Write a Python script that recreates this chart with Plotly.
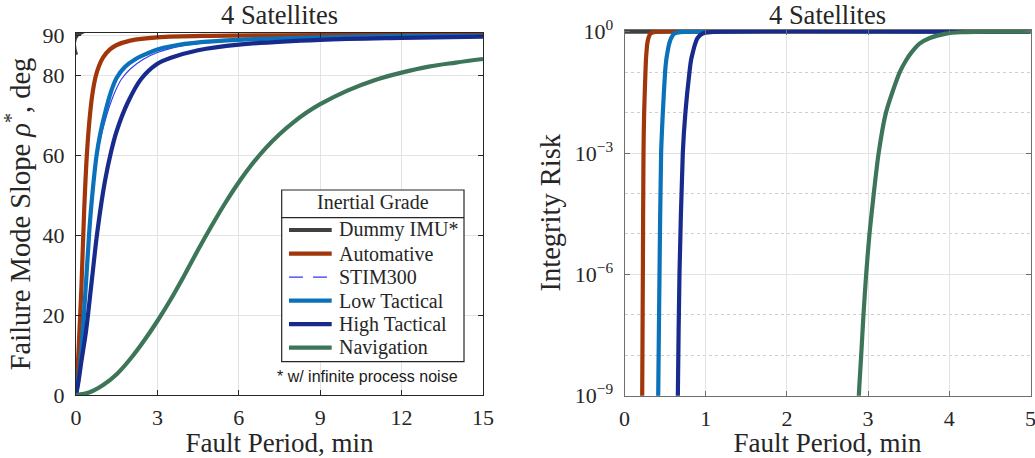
import plotly.graph_objects as go

W, H = 1035, 458

# ---------------- data: left panel (Failure mode slope, deg vs fault period, min)
dummy_t = [0, 0.04, 15]
dummy_rho = [85, 90, 90]

auto_t = [0, 0.05, 0.1, 0.2, 0.3, 0.4, 0.5, 0.6, 0.72, 0.85, 1.0, 1.25, 1.5, 2.0, 3.0, 5.0, 15]
auto_rho = [0, 5, 12, 27, 46, 60, 69, 75, 79.5, 82.3, 84.4, 86.4, 87.5, 88.6, 89.4, 89.8, 90]

stim_t = [0, 0.15, 0.33, 0.49, 0.6, 0.76, 0.9, 1.07, 1.25, 1.45, 1.68, 2.0, 2.5, 3.0, 3.46, 4.5, 6, 9, 12, 15]
stim_rho = [0, 7.5, 24, 41, 49.5, 58.5, 64, 68.5, 72.5, 76, 79, 81.5, 84, 85.6, 86.6, 87.8, 88.6, 89.2, 89.5, 89.7]

low_t = [0, 0.15, 0.33, 0.49, 0.6, 0.76, 0.9, 1.07, 1.3, 1.5, 1.8, 2.2, 2.6, 3.0, 3.5, 4.6, 6, 9, 12, 15]
low_rho = [0, 7.5, 24, 41, 50, 60, 65.5, 70.5, 76, 79.3, 82, 84, 85.3, 86.4, 87.2, 88.2, 88.8, 89.4, 89.7, 89.8]

high_t = [0, 0.09, 0.2, 0.37, 0.58, 0.79, 1.07, 1.3, 1.5, 1.9, 2.4, 3.0, 3.5, 4.5, 6, 9, 12, 15]
high_rho = [0, 3.3, 8.5, 16, 28.5, 41, 53.6, 61, 66, 73, 79, 82.8, 84.3, 86.2, 87.6, 88.8, 89.3, 89.6]

nav_t = [0, 0.5, 1, 1.5, 2, 2.5, 3, 3.5, 4, 4.5, 5, 5.5, 6, 6.5, 7, 7.5, 8, 8.5, 9, 10, 11, 12, 13, 14, 15]
nav_rho = [0, 0.7, 2.5, 5.2, 9, 13.5, 18.5, 24, 30, 36.3, 42.3, 48, 53.2, 57.8, 61.8, 65.2, 68.1, 70.6, 72.7,
           76.1, 78.7, 80.6, 82.1, 83.1, 84]

# ---------------- data: right panel (Integrity risk vs fault period, min)
r_dummy_t = [0, 5]
r_dummy_p = [1, 1]

r_auto_t = [0.214, 0.218, 0.226, 0.234, 0.242, 0.258, 0.264, 0.27, 0.28, 0.295, 0.32, 0.36, 5]
r_auto_p = [1e-10, 1e-9, 1e-6, 1e-3, 1e-2, 1e-1, 0.2, 0.3, 0.5, 0.7, 0.9, 0.98, 1]

r_stim_t = [0.406, 0.411, 0.427, 0.447, 0.468, 0.496, 0.51, 0.524, 0.545, 0.57, 0.61, 0.68, 5]
r_stim_p = [1e-10, 1e-9, 1e-6, 1e-3, 1e-2, 1e-1, 0.2, 0.3, 0.5, 0.7, 0.9, 0.98, 1]

r_low_t = [0.41, 0.415, 0.431, 0.451, 0.472, 0.5, 0.514, 0.528, 0.55, 0.575, 0.615, 0.685, 5]
r_low_p = [1e-10, 1e-9, 1e-6, 1e-3, 1e-2, 1e-1, 0.2, 0.3, 0.5, 0.7, 0.9, 0.98, 1]

r_high_t = [0.652, 0.657, 0.677, 0.718, 0.75, 0.8, 0.82, 0.84, 0.87, 0.9, 0.96, 1.06, 5]
r_high_p = [1e-10, 1e-9, 1e-6, 1e-3, 1e-2, 1e-1, 0.2, 0.3, 0.5, 0.7, 0.9, 0.98, 1]

r_nav_t = [2.876, 2.886, 2.915, 2.943, 2.976, 3.017, 3.07, 3.13, 3.22, 3.39, 3.47, 3.53, 3.63, 3.76, 3.96, 4.15, 4.5, 5]
r_nav_p = [1e-10, 1e-9, 1e-8, 1e-7, 1e-6, 1e-5, 1e-4, 1e-3, 1e-2, 1e-1, 0.2, 0.3, 0.5, 0.7, 0.9, 0.97, 1, 1]

names = ["Dummy IMU*", "Automative", "STIM300", "Low Tactical", "High Tactical", "Navigation"]
colors = ["#404040", "#A0360A", "#3535F5", "#0A72BA", "#182B8C", "#3C7558"]

left_x_ticks = [0, 3, 6, 9, 12, 15]
left_y_ticks = [0, 20, 40, 60, 80, 90]
right_x_ticks = [0, 1, 2, 3, 4, 5]
right_y_ticks = [1, 1e-3, 1e-6, 1e-9]
right_y_labels = ["10<sup>0</sup>", "10<sup>−3</sup>", "10<sup>−6</sup>", "10<sup>−9</sup>"]
right_minor = [1e-1, 1e-2, 1e-4, 1e-5, 1e-7, 1e-8]

SERIF = "Liberation Serif"
SANS = "Liberation Sans"
TXT = "#262626"
GRID = "#E3E3E3"
THICK = 4.2
THIN = 1.1

fig = go.Figure()

left_series = [(dummy_t, dummy_rho), (auto_t, auto_rho), (stim_t, stim_rho),
               (low_t, low_rho), (high_t, high_rho), (nav_t, nav_rho)]
right_series = [(r_dummy_t, r_dummy_p), (r_auto_t, r_auto_p), (r_stim_t, r_stim_p),
                (r_low_t, r_low_p), (r_high_t, r_high_p), (r_nav_t, r_nav_p)]

for i, (t, v) in enumerate(left_series):
    w = THIN if names[i] == "STIM300" else THICK
    fig.add_trace(go.Scatter(x=t, y=v, mode="lines", name=names[i], showlegend=False,
                             line=dict(color=colors[i], width=w, shape="spline", smoothing=1.0),
                             xaxis="x", yaxis="y"))

for i, (t, v) in enumerate(right_series):
    w = THIN if names[i] == "STIM300" else THICK
    fig.add_trace(go.Scatter(x=t, y=v, mode="lines", name=names[i], showlegend=False,
                             line=dict(color=colors[i], width=w, shape="spline", smoothing=0.7),
                             xaxis="x2", yaxis="y2"))

def px_x(p):
    return p / W

def px_y(p):
    return 1 - p / H

axis_common = dict(showline=True, mirror="ticks", ticks="inside", ticklen=5, tickwidth=1,
                   showgrid=True, gridcolor=GRID, gridwidth=1, zeroline=False, automargin=False,
                   ticklabeloverflow="allow",
                   tickfont=dict(family=SERIF, size=22, color=TXT))
xtitle_font = dict(family=SERIF, size=27, color=TXT)
ytitle_font = dict(family=SERIF, size=28.5, color=TXT)

# ---------------- manual legend (box with title)
LX0, LX1, LY0, LY1 = 281.7, 464.0, 190.0, 361.7
SEP_Y = 217.7
ITEM_Y0, ITEM_DY = 230.0, 23.54
SAMPLE_X0, SAMPLE_X1, TEXT_X = 289.0, 331.7, 336.5
LEG_FONT = 20

shapes = [
    dict(type="rect", xref="paper", yref="paper", x0=px_x(LX0), x1=px_x(LX1), y0=px_y(LY1), y1=px_y(LY0),
         fillcolor="white", line=dict(color=TXT, width=1.2), layer="above"),
    dict(type="line", xref="paper", yref="paper", x0=px_x(LX0), x1=px_x(LX1), y0=px_y(SEP_Y), y1=px_y(SEP_Y),
         line=dict(color=TXT, width=1.2), layer="above"),
]
annotations = [
    dict(text="Inertial Grade", x=px_x((LX0 + LX1) / 2), y=px_y(202), xref="paper", yref="paper",
         showarrow=False, font=dict(family=SERIF, size=LEG_FONT, color=TXT), xanchor="center", yanchor="middle"),
]
for i, nm in enumerate(names):
    yy = px_y(ITEM_Y0 + i * ITEM_DY)
    if nm == "STIM300":
        ln = dict(color=colors[i], width=1.3, dash="14px,10px")
    else:
        ln = dict(color=colors[i], width=THICK)
    shapes.append(dict(type="line", xref="paper", yref="paper", x0=px_x(SAMPLE_X0), x1=px_x(SAMPLE_X1),
                       y0=yy, y1=yy, line=ln, layer="above"))
    annotations.append(dict(text=nm, x=px_x(TEXT_X), y=yy, xref="paper", yref="paper", showarrow=False,
                            font=dict(family=SERIF, size=LEG_FONT, color=TXT), xanchor="left", yanchor="middle"))

annotations += [
    dict(text="4 Satellites", x=px_x((76 + 483) / 2), y=px_y(15), xref="paper", yref="paper",
         showarrow=False, font=dict(family=SERIF, size=26.5, color=TXT), xanchor="center", yanchor="middle"),
    dict(text="4 Satellites", x=px_x((624.5 + 1030.5) / 2), y=px_y(15), xref="paper", yref="paper",
         showarrow=False, font=dict(family=SERIF, size=26.5, color=TXT), xanchor="center", yanchor="middle"),
    dict(text="* w/ infinite process noise", x=px_x(367.5), y=px_y(376), xref="paper", yref="paper",
         showarrow=False, font=dict(family=SANS, size=16, color="#1A1A1A"),
         xanchor="center", yanchor="middle"),
]

fig.update_layout(
    width=W, height=H, margin=dict(l=0, r=0, t=0, b=0),
    paper_bgcolor="white", plot_bgcolor="white", showlegend=False,
    font=dict(family=SERIF, color=TXT),
    xaxis=dict(domain=[px_x(76), px_x(483)], range=[0, 15], tickvals=left_x_ticks,
               linecolor=TXT, tickcolor=TXT, anchor="y", ticklabelstandoff=3,
               title=dict(text="Fault Period, min", font=xtitle_font, standoff=5),
               **axis_common),
    yaxis=dict(domain=[px_y(395), px_y(33)], range=[0, 90.5], tickvals=left_y_ticks,
               linecolor=TXT, tickcolor=TXT, anchor="x", ticklabelstandoff=6,
               title=dict(text="Failure Mode Slope <i>ρ</i><sup>*</sup>, deg", font=ytitle_font, standoff=7),
               **axis_common),
    xaxis2=dict(domain=[px_x(624.5), px_x(1030.5)], range=[0, 5], tickvals=right_x_ticks,
                linecolor="#6E6E6E", tickcolor="#6E6E6E", anchor="y2", ticklabelstandoff=3,
                title=dict(text="Fault Period, min", font=xtitle_font, standoff=5),
                **axis_common),
    yaxis2=dict(domain=[px_y(395.7), px_y(29.7)], type="log", range=[-9, 0.05],
                tickvals=right_y_ticks, ticktext=right_y_labels,
                linecolor="#6E6E6E", tickcolor="#6E6E6E", anchor="x2", ticklabelstandoff=6,
                minor=dict(tickmode="array", tickvals=right_minor, showgrid=True, gridcolor="#CFCFCF",
                           griddash="dot", ticks=""),
                title=dict(text="Integrity Risk", font=ytitle_font, standoff=5),
                **axis_common),
    shapes=shapes,
    annotations=annotations,
)

fig.write_html("out.html", config={"displayModeBar": False},
               post_script="document.body.style.margin='0px';")
